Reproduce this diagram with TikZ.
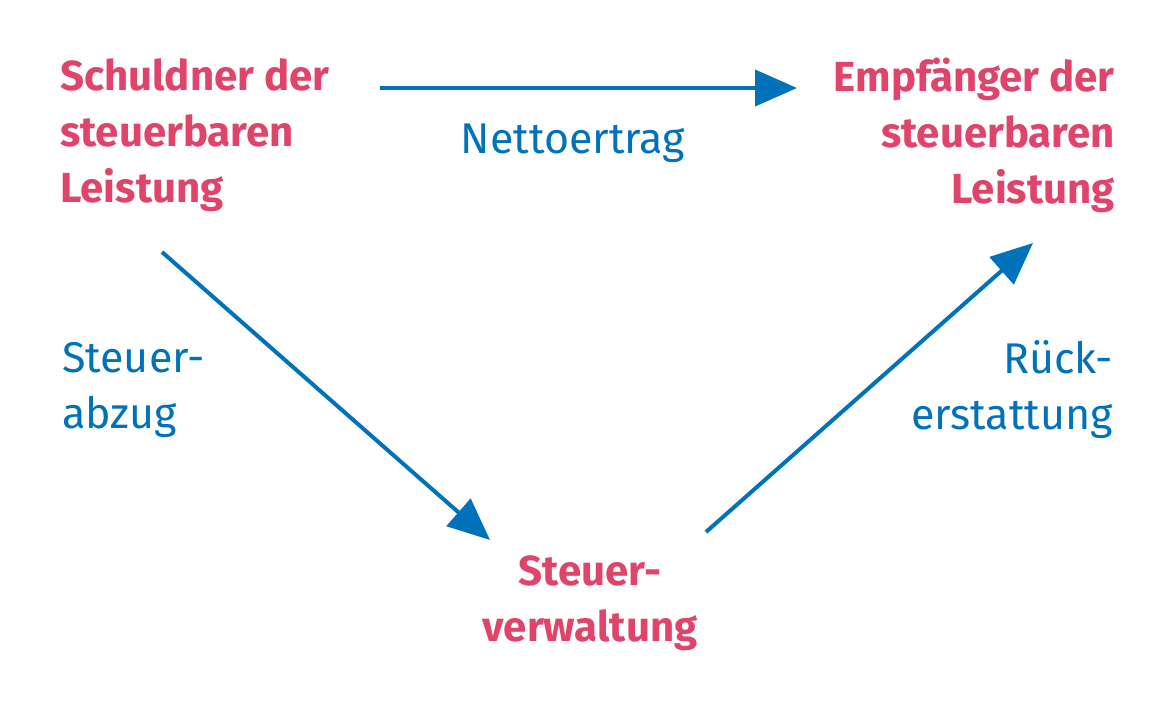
\documentclass[tikz,border=0pt]{standalone}
\usepackage{fontspec}
\setmainfont{Fira Sans}
\usetikzlibrary{arrows.meta}
\definecolor{pk}{HTML}{E0446A}
\definecolor{bl}{HTML}{0072BC}
\begin{document}
\begin{tikzpicture}[x=1pt,y=-1pt,
  actor/.style={text=pk,font=\fontsize{42}{56}\selectfont\bfseries,inner sep=0pt},
  lbl/.style={text=bl,font=\fontsize{43}{56}\selectfont,inner sep=0pt},
  flow/.style={draw=bl,line width=4pt,-{Triangle[length=42pt,width=36pt]}}]
\useasboundingbox (0,0) rectangle (1170,721);
\node[actor,anchor=west,align=left] (s) at (60,135) {Schuldner der\\steuerbaren\\Leistung};
\node[actor,anchor=east,align=right] (e) at (1115,135) {Empfänger der\\steuerbaren\\Leistung};
\node[actor,align=center] (v) at (590,603) {Steuer-\\verwaltung};
\node[lbl] (n) at (573,143) {Nettoertrag};
\node[lbl,anchor=west,align=left] (a) at (62,390) {Steuer-\\abzug};
\node[lbl,anchor=east,align=right] (r) at (1113,390) {Rück-\\erstattung};
\coordinate (t1) at (380,88); \coordinate (t2) at (797,88);
\coordinate (d1) at (162,252); \coordinate (d2) at (490,540);
\coordinate (u1) at (706,532); \coordinate (u2) at (1033,243);
\draw[flow] (t1) -- (t2);
\draw[flow] (d1) -- (d2);
\draw[flow] (u1) -- (u2);
\end{tikzpicture}
\end{document}
